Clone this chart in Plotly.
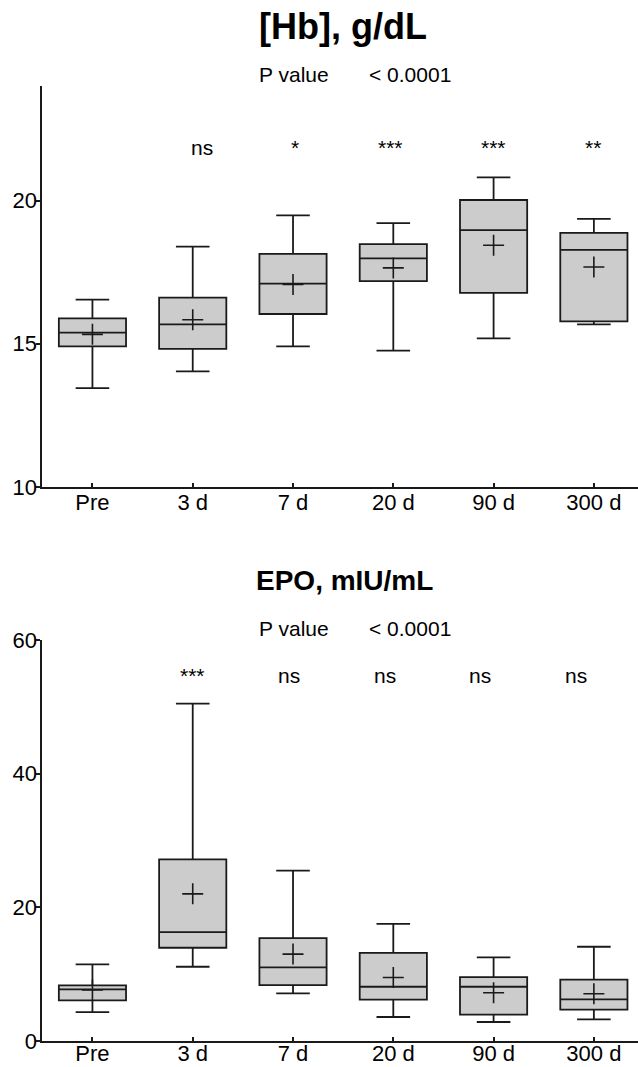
import plotly.graph_objects as go

categories = ["Pre", "3 d", "7 d", "20 d", "90 d", "300 d"]

# [Hb], g/dL
hb_lower = [13.45, 14.04, 14.91, 14.76, 15.19, 15.68]
hb_q1 = [14.91, 14.82, 16.04, 17.19, 16.78, 15.78]
hb_median = [15.39, 15.68, 17.10, 17.98, 18.97, 18.28]
hb_q3 = [15.89, 16.61, 18.14, 18.48, 20.02, 18.87]
hb_upper = [16.54, 18.39, 19.48, 19.21, 20.81, 19.36]
hb_mean = [15.33, 15.84, 17.07, 17.65, 18.44, 17.68]
hb_sig = ["ns", "*", "***", "***", "**"]

# EPO, mIU/mL
epo_lower = [4.33, 11.11, 7.12, 3.59, 2.84, 3.24]
epo_q1 = [6.08, 13.95, 8.37, 6.18, 3.94, 4.69]
epo_median = [7.72, 16.28, 11.01, 8.12, 8.12, 6.23]
epo_q3 = [8.32, 27.19, 15.39, 13.20, 9.56, 9.17]
epo_upper = [11.46, 50.49, 25.50, 17.53, 12.50, 14.10]
epo_mean = [7.62, 22.02, 13.00, 9.51, 7.22, 7.08]
epo_sig = ["***", "ns", "ns", "ns", "ns"]

p_label = "P value"
p_value = "< 0.0001"

W, H = 638, 1067
FONT = "Liberation Sans, Arial, sans-serif"
LINE = "#1a1a1a"

def py(px):
    return 1 - px / H

fig = go.Figure()

def add_panel(xa, ya, lower, q1, med, q3, upper, mean):
    fig.add_trace(go.Box(
        x=categories, q1=q1, median=med, q3=q3,
        lowerfence=lower, upperfence=upper,
        boxpoints=False, width=0.67, whiskerwidth=0.5,
        fillcolor="#cccccc", line=dict(color=LINE, width=1.8),
        xaxis=xa, yaxis=ya, showlegend=False, hoverinfo="skip",
    ))
    fig.add_trace(go.Scatter(
        x=categories, y=mean, mode="markers",
        marker=dict(symbol="cross-thin", size=15, color=LINE,
                    line=dict(width=1.6, color=LINE)),
        xaxis=xa, yaxis=ya, showlegend=False, hoverinfo="skip",
    ))

add_panel("x", "y", hb_lower, hb_q1, hb_median, hb_q3, hb_upper, hb_mean)
add_panel("x2", "y2", epo_lower, epo_q1, epo_median, epo_q3, epo_upper, epo_mean)

x_dom = [42.3 / W, 1.0]
axis_common = dict(showline=True, linecolor=LINE, linewidth=1.8, showgrid=False,
                   zeroline=False, automargin=False,
                   tickfont=dict(family=FONT, size=22, color="black"),
                   tickcolor=LINE, tickwidth=1.5)

fig.update_layout(
    width=W, height=H, margin=dict(l=0, r=0, t=0, b=0, pad=0),
    paper_bgcolor="white", plot_bgcolor="white",
    font=dict(family=FONT, color="black"),
    xaxis=dict(domain=x_dom, anchor="y", range=[-0.5, 5.44], type="category",
               ticks="inside", ticklen=4, ticklabelstandoff=-5, **axis_common),
    yaxis=dict(domain=[py(487), py(86)], anchor="x", range=[10, 24],
               tickvals=[10, 15, 20], ticks="outside", ticklen=4,
               ticklabelstandoff=-5, **axis_common),
    xaxis2=dict(domain=x_dom, anchor="y2", range=[-0.5, 5.44], type="category",
                ticks="inside", ticklen=4, ticklabelstandoff=-8, **axis_common),
    yaxis2=dict(domain=[py(1041), py(640)], anchor="x2", range=[0, 60],
                tickvals=[0, 20, 40, 60], ticks="outside", ticklen=4,
                ticklabelstandoff=-5, **axis_common),
)

anns = []
# titles
anns.append(dict(text="<b>[Hb], g/dL</b>", x=343 / W, y=py(27), xref="paper", yref="paper",
                 xanchor="center", yanchor="middle", showarrow=False,
                 font=dict(family=FONT, size=36, color="black")))
anns.append(dict(text="<b>EPO, mIU/mL</b>", x=344 / W, y=py(580), xref="paper", yref="paper",
                 xanchor="center", yanchor="middle", showarrow=False,
                 font=dict(family=FONT, size=28, color="black")))
# P value rows
for yc in (75, 628):
    anns.append(dict(text=p_label, x=257 / W, y=py(yc), xref="paper", yref="paper",
                     xanchor="left", yanchor="middle", showarrow=False,
                     font=dict(family=FONT, size=21, color="black")))
    anns.append(dict(text=p_value, x=367 / W, y=py(yc), xref="paper", yref="paper",
                     xanchor="left", yanchor="middle", showarrow=False,
                     font=dict(family=FONT, size=21, color="black")))
# significance labels
hb_sig_x = [1.09, 2.02, 2.97, 4.0, 4.99]
for xv, t in zip(hb_sig_x, hb_sig):
    anns.append(dict(text=t, x=xv, y=py(147), xref="x", yref="paper",
                     xanchor="center", yanchor="middle", showarrow=False,
                     font=dict(family=FONT, size=21, color="black")))
epo_sig_x = [1.0, 1.96, 2.915, 3.865, 4.82]
for xv, t in zip(epo_sig_x, epo_sig):
    anns.append(dict(text=t, x=xv, y=py(675), xref="x2", yref="paper",
                     xanchor="center", yanchor="middle", showarrow=False,
                     font=dict(family=FONT, size=21, color="black")))
fig.update_layout(annotations=anns)

fig.write_html("out.html", config={"displayModeBar": False},
               post_script="document.body.style.margin='0px';document.body.style.overflow='hidden';")
